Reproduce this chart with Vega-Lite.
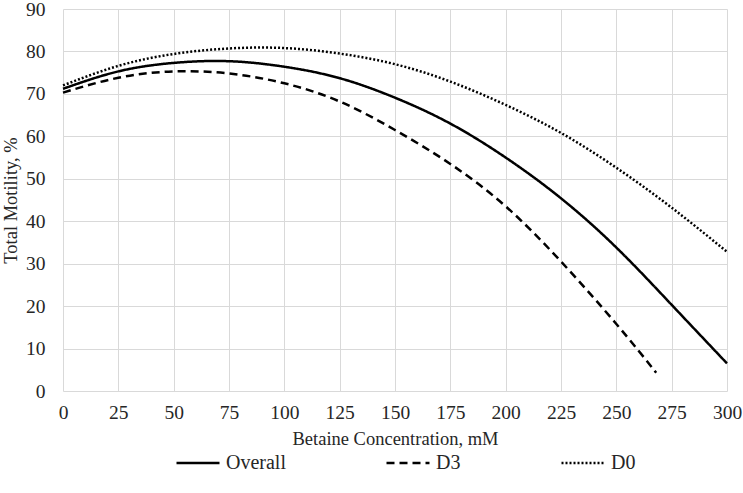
{
  "$schema": "https://vega.github.io/schema/vega-lite/v6.json",
  "autosize": "none",
  "width": 664,
  "height": 382,
  "padding": {"left": 63, "top": 9, "right": 16, "bottom": 102},
  "background": "white",
  "config": {
    "view": {"stroke": null},
    "font": "Liberation Serif",
    "axis": {
      "labelFont": "Liberation Serif",
      "titleFont": "Liberation Serif",
      "labelFontSize": 19.5,
      "titleFontSize": 18.5,
      "labelColor": "#262626",
      "titleColor": "#262626",
      "titleFontWeight": "normal",
      "gridColor": "#d9d9d9",
      "gridWidth": 1,
      "tickSize": 0,
      "domain": false,
      "labelFlush": false
    },
    "legend": {
      "labelFont": "Liberation Serif",
      "labelFontSize": 20,
      "labelColor": "#262626"
    }
  },
  "data": {
    "values": [
      {"x": 0, "y": 71.2, "s": "Overall"},
      {"x": 25, "y": 75.3, "s": "Overall"},
      {"x": 50, "y": 77.3, "s": "Overall"},
      {"x": 75, "y": 77.7, "s": "Overall"},
      {"x": 100, "y": 76.4, "s": "Overall"},
      {"x": 125, "y": 73.7, "s": "Overall"},
      {"x": 150, "y": 69.1, "s": "Overall"},
      {"x": 175, "y": 63.0, "s": "Overall"},
      {"x": 200, "y": 55.0, "s": "Overall"},
      {"x": 225, "y": 45.4, "s": "Overall"},
      {"x": 250, "y": 33.8, "s": "Overall"},
      {"x": 275, "y": 20.3, "s": "Overall"},
      {"x": 300, "y": 6.5, "s": "Overall"},
      {"x": 0, "y": 70.3, "s": "D3"},
      {"x": 25, "y": 73.8, "s": "D3"},
      {"x": 50, "y": 75.3, "s": "D3"},
      {"x": 75, "y": 74.8, "s": "D3"},
      {"x": 100, "y": 72.5, "s": "D3"},
      {"x": 125, "y": 68.2, "s": "D3"},
      {"x": 150, "y": 61.5, "s": "D3"},
      {"x": 175, "y": 53.5, "s": "D3"},
      {"x": 200, "y": 43.5, "s": "D3"},
      {"x": 225, "y": 30.5, "s": "D3"},
      {"x": 250, "y": 15.8, "s": "D3"},
      {"x": 268, "y": 4.3, "s": "D3"},
      {"x": 0, "y": 72.0, "s": "D0"},
      {"x": 25, "y": 76.6, "s": "D0"},
      {"x": 50, "y": 79.4, "s": "D0"},
      {"x": 75, "y": 80.7, "s": "D0"},
      {"x": 100, "y": 80.8, "s": "D0"},
      {"x": 125, "y": 79.5, "s": "D0"},
      {"x": 150, "y": 77.0, "s": "D0"},
      {"x": 175, "y": 72.9, "s": "D0"},
      {"x": 200, "y": 67.4, "s": "D0"},
      {"x": 225, "y": 60.8, "s": "D0"},
      {"x": 250, "y": 52.6, "s": "D0"},
      {"x": 275, "y": 43.2, "s": "D0"},
      {"x": 300, "y": 32.8, "s": "D0"}
    ]
  },
  "mark": {"type": "line", "interpolate": "natural", "color": "black", "strokeWidth": 2.5},
  "encoding": {
    "x": {
      "field": "x", "type": "quantitative",
      "scale": {"domain": [0, 300], "nice": false},
      "axis": {"values": [0,25,50,75,100,125,150,175,200,225,250,275,300], "title": "Betaine Concentration, mM", "labelPadding": 12, "titlePadding": 8}
    },
    "y": {
      "field": "y", "type": "quantitative",
      "scale": {"domain": [0, 90], "nice": false},
      "axis": {"values": [0,10,20,30,40,50,60,70,80,90], "title": "Total Motility, %", "labelPadding": 18, "titlePadding": 5}
    },
    "strokeDash": {
      "field": "s", "type": "nominal",
      "scale": {"domain": ["Overall", "D3", "D0"], "range": [[1, 0], [8, 5], [2, 2]]},
      "legend": {
        "title": null,
        "orient": "none",
        "direction": "horizontal",
        "legendX": 112,
        "legendY": 431,
        "symbolType": "stroke",
        "symbolSize": 1849,
        "symbolStrokeWidth": 2.5,
        "symbolStrokeColor": "black",
        "columnPadding": 95,
        "labelOffset": 5
      }
    }
  }
}
